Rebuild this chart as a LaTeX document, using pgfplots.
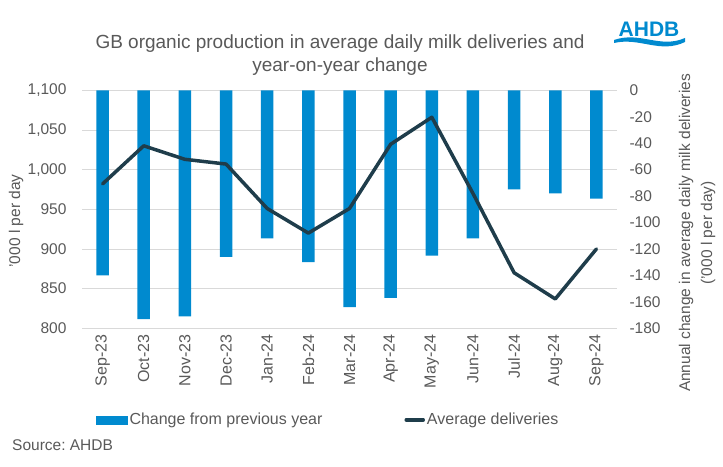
\documentclass[border=0pt]{standalone}
\usepackage{pgfplots}
\pgfplotsset{compat=1.18}
\usepackage{fontspec}
\setmainfont{Liberation Sans}
\frenchspacing
\definecolor{barblue}{RGB}{0,138,207}
\definecolor{linedark}{RGB}{31,61,75}
\definecolor{txtgrey}{RGB}{89,89,89}
\definecolor{gridgrey}{RGB}{217,217,217}
\newcommand{\fs}{\fontsize{15.5bp}{18bp}\selectfont}
\newcommand{\fl}{\fontsize{16bp}{19bp}\selectfont}
\begin{document}
\begin{tikzpicture}[x=1bp,y=1bp]
\path[use as bounding box] (0,0) rectangle (723,467);
\pgfplotsset{base/.style={at={(82bp,138.7bp)}, anchor=south west, scale only axis,
  width=535bp, height=238bp, xmin=-0.5, xmax=12.5, major tick length=0pt,
  tick label style={font=\fs, text=txtgrey, /pgf/number format/assume math mode=true},
  axis line style={draw=none}}}
% axis 1: grid, left ticks, x labels
\begin{axis}[base, ymin=800, ymax=1100, ytick={800,850,...,1100},
  ymajorgrids, grid style={gridgrey, line width=0.8bp},
  axis x line*=bottom, axis y line*=left,
  yticklabel style={/pgf/number format/1000 sep={,}, xshift=-12bp},
  xtick={0,...,12},
  xticklabels={Sep-23,Oct-23,Nov-23,Dec-23,Jan-24,Feb-24,Mar-24,Apr-24,May-24,Jun-24,Jul-24,Aug-24,Sep-24},
  xticklabel shift=3bp,
  xticklabel style={font=\fl, rotate=90, anchor=east}]
\addplot[draw=none] coordinates {(0,900)};
\end{axis}
% axis 2: bars, right ticks
\begin{axis}[base, ymin=-180, ymax=0, ytick={0,-20,...,-180},
  axis y line*=right, hide x axis,
  yticklabel style={xshift=9bp}]
\addplot[ybar, bar width=12.5bp, fill=barblue, draw=none] coordinates {
(0,-140) (1,-173) (2,-171) (3,-126) (4,-112) (5,-130) (6,-164) (7,-157)
(8,-125) (9,-112) (10,-75) (11,-78) (12,-82)};
\end{axis}
% axis 3: line + legend
\begin{axis}[base, ymin=800, ymax=1100, hide axis,
  legend style={at={(0.026,-0.385)}, anchor=west, legend columns=2, draw=none,
    fill=none, inner sep=0pt, font=\fl, text=txtgrey, cells={anchor=west},
    /tikz/every even column/.append style={column sep=80bp}}]
\addlegendimage{legend image code/.code={\fill[barblue] (0bp,-4bp) rectangle (31bp,4bp);}}
\addlegendentry{Change from previous year}
\addplot[linedark, line width=3.5bp, line join=round, line cap=round] coordinates {
(0,982) (1,1030) (2,1013) (3,1007) (4,951) (5,920) (6,951) (7,1032)
(8,1066) (9,970) (10,870) (11,837) (12,900)};
\addlegendentry{Average deliveries}
\end{axis}
\node[align=center, font=\fontsize{19bp}{23bp}\selectfont, text=txtgrey] at (340,412)
  {GB organic production in average daily milk deliveries and\\year-on-year change};
\node[font=\bfseries\fontsize{21bp}{21bp}\selectfont, text=barblue, inner sep=0pt] at (649,438) {AHDB};
\fill[barblue] (614,427) .. controls (640,436) and (660,418) .. (685,429)
  -- (685,425) .. controls (660,413) and (640,430) .. (614,424) -- cycle;
\node[rotate=90, font=\fs, text=txtgrey] at (16,246) {'000 l per day};
\node[rotate=90, align=center, font=\fontsize{15.5bp}{22bp}\selectfont, text=txtgrey] at (697,234)
  {Annual change in average daily milk deliveries\\('000 l per day)};
\node[anchor=west, font=\fs, text=txtgrey, inner sep=0pt] at (12,22) {Source: AHDB};
\end{tikzpicture}
\end{document}
